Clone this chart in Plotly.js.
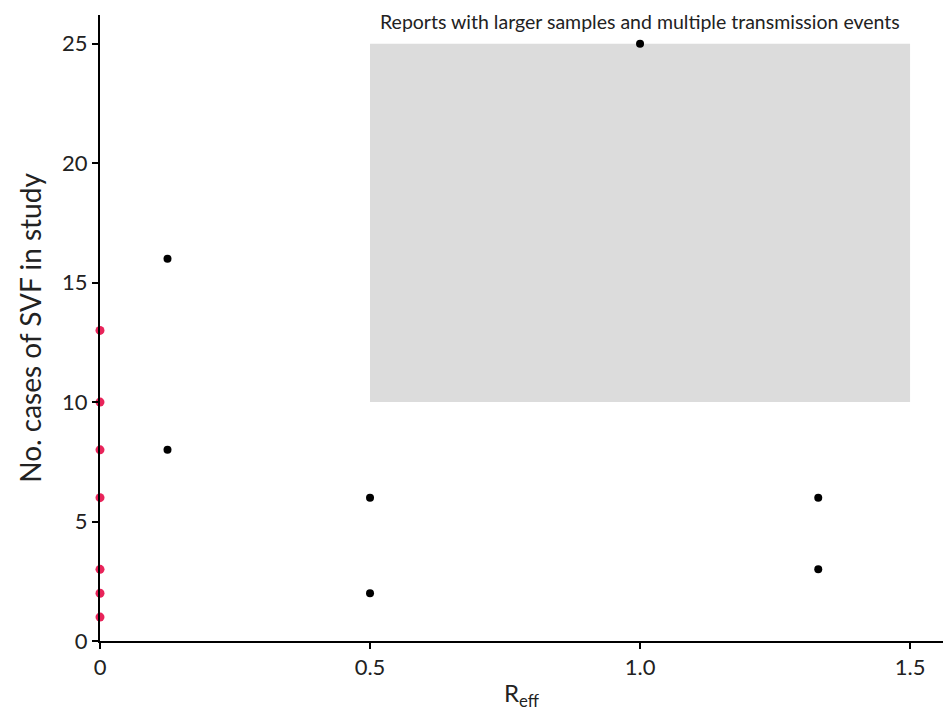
<!DOCTYPE html>
<html>
<head>
<meta charset="utf-8">
<script src="https://cdn.plot.ly/plotly-3.0.1.min.js"></script>
<style>html,body{margin:0;padding:0;background:#fff;}#chart{width:943px;height:713px;}</style>
</head>
<body>
<div id="chart"></div>
<script>
// Studies with R_eff = 0 (red)
const zeroReff = [0, 0, 0, 0, 0, 0, 0];
const zeroCases = [13, 10, 8, 6, 3, 2, 1];
// Studies with R_eff > 0 (black)
const posReff = [0.125, 0.125, 0.5, 0.5, 1.0, 1.33, 1.33];
const posCases = [16, 8, 6, 2, 25, 6, 3];
// Shaded region: larger samples and multiple transmission events
const regionX = [0.5, 1.5];
const regionY = [10, 25];
const regionLabel = "Reports with larger samples and multiple transmission events";
const xTickVals = [0, 0.5, 1.0, 1.5];
const xTickText = ["0", "0.5", "1.0", "1.5"];
const yTickVals = [0, 5, 10, 15, 20, 25];

const font = "Lato, 'Open Sans', sans-serif";

const traces = [
  {x: posReff, y: posCases, type: "scatter", mode: "markers",
   marker: {color: "#000000", size: 8}, cliponaxis: false, showlegend: false},
  {x: zeroReff, y: zeroCases, type: "scatter", mode: "markers",
   marker: {color: "#e8245a", size: 9}, cliponaxis: false, showlegend: false}
];

const layout = {
  width: 943, height: 713,
  margin: {l: 100, r: 0, t: 15, b: 72},
  paper_bgcolor: "#ffffff", plot_bgcolor: "#ffffff",
  font: {family: font, color: "#222"},
  showlegend: false,
  xaxis: {
    range: [0, 1.561], showgrid: false, zeroline: false,
    showline: true, linecolor: "#000", linewidth: 2,
    ticks: "outside", ticklen: 6, tickcolor: "#000", tickwidth: 2,
    tickvals: xTickVals, ticktext: xTickText,
    tickfont: {size: 22, family: font, color: "#222"},
    title: {text: "R<sub>eff</sub>", font: {size: 24, family: font, color: "#222"}, standoff: 6}
  },
  yaxis: {
    range: [0, 26.2], showgrid: false, zeroline: false,
    showline: true, linecolor: "#000", linewidth: 2,
    ticks: "outside", ticklen: 6, tickcolor: "#000", tickwidth: 2,
    tickvals: yTickVals,
    tickfont: {size: 22, family: font, color: "#222"},
    title: {text: "No. cases of SVF in study", font: {size: 28, family: font, color: "#222"}, standoff: 12}
  },
  shapes: [{
    type: "rect", xref: "x", yref: "y", layer: "below",
    x0: regionX[0], x1: regionX[1], y0: regionY[0], y1: regionY[1],
    fillcolor: "#dcdcdc", line: {width: 0}
  }],
  annotations: [{
    xref: "x", yref: "paper", x: 1.0, y: 0.989, yanchor: "middle",
    text: regionLabel, showarrow: false,
    font: {size: 19.5, family: font, color: "#222"}
  }]
};

Plotly.newPlot("chart", traces, layout, {displayModeBar: false, staticPlot: true});
</script>
</body>
</html>
